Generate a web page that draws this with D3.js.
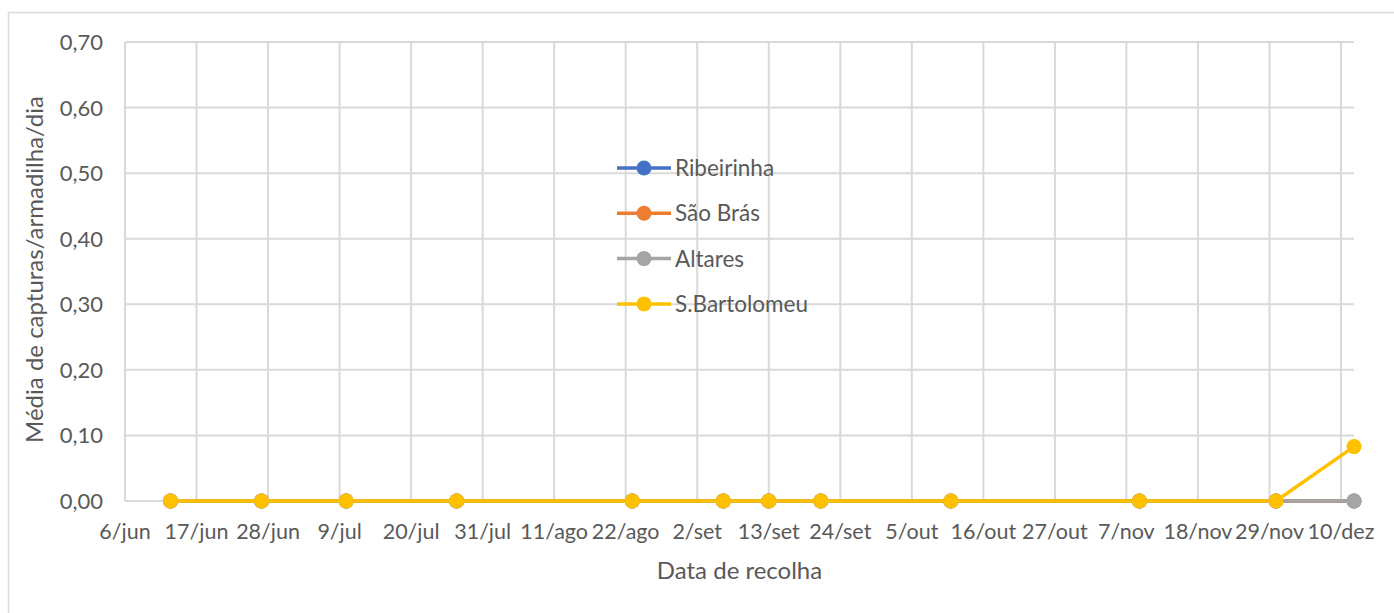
<!DOCTYPE html>
<html>
<head>
<meta charset="utf-8">
<script src="https://cdn.jsdelivr.net/npm/d3@7"></script>
<style>
  body { margin: 0; background: #fff; }
  text { font-family: Lato, "Open Sans", sans-serif; fill: #595959; }
</style>
</head>
<body>
<div id="chart"></div>
<script>
// collection dates (2019 assumed, only day/month shown)
var dates = ["2019-06-13", "2019-06-27", "2019-07-10", "2019-07-27", "2019-08-23",
  "2019-09-06", "2019-09-13", "2019-09-21", "2019-10-11", "2019-11-09",
  "2019-11-30", "2019-12-12"];

var ribeirinha = [0, 0, 0, 0, 0, 0, 0, 0, 0, 0, 0, 0];
var saoBras = [0, 0, 0, 0, 0, 0, 0, 0, 0, 0, 0, 0];
var altares = [0, 0, 0, 0, 0, 0, 0, 0, 0, 0, 0, 0];
var sBartolomeu = [0, 0, 0, 0, 0, 0, 0, 0, 0, 0, 0, 0.083];

var seriesNames = ["Ribeirinha", "São Brás", "Altares", "S.Bartolomeu"];
var seriesColors = ["#4472C4", "#ED7D31", "#A5A5A5", "#FFC000"];
var yTicks = [0, 0.1, 0.2, 0.3, 0.4, 0.5, 0.6, 0.7];
var months = ["jan", "fev", "mar", "abr", "mai", "jun", "jul", "ago", "set", "out", "nov", "dez"];

var svgWidth = 1394;
var svgHeight = 613;

var margin = { top: 42, right: 40, bottom: 112, left: 125 };
var width = svgWidth - margin.left - margin.right;
var height = svgHeight - margin.top - margin.bottom;

var parse = d3.timeParse("%Y-%m-%d");
var xStart = parse("2019-06-06");
var xEnd = parse("2019-12-12");

var svg = d3.select("#chart")
  .append("svg")
  .attr("width", svgWidth)
  .attr("height", svgHeight);

// chart border
svg.append("rect")
  .attr("x", 8.5)
  .attr("y", 12.5)
  .attr("width", 1400)
  .attr("height", 620)
  .attr("fill", "none")
  .attr("stroke", "#d9d9d9")
  .attr("stroke-width", 1.5);

var chartGroup = svg.append("g")
  .attr("transform", `translate(${margin.left}, ${margin.top})`);

var xScale = d3.scaleTime()
  .domain([xStart, xEnd])
  .range([0, width]);

var yScale = d3.scaleLinear()
  .domain([0, 0.7])
  .range([height, 0]);

// ticks every 11 days from 6/jun
var xTicks = d3.timeDay.range(xStart, xEnd, 1).filter(function(d, i) { return i % 11 === 0; });

// vertical gridlines
chartGroup.append("g").selectAll("line")
  .data(xTicks)
  .enter()
  .append("line")
  .attr("x1", d => xScale(d))
  .attr("x2", d => xScale(d))
  .attr("y1", 0)
  .attr("y2", height)
  .attr("stroke", "#d9d9d9")
  .attr("stroke-width", 2);

// horizontal gridlines
chartGroup.append("g").selectAll("line")
  .data(yTicks)
  .enter()
  .append("line")
  .attr("x1", 0)
  .attr("x2", width)
  .attr("y1", d => yScale(d))
  .attr("y2", d => yScale(d))
  .attr("stroke", "#d9d9d9")
  .attr("stroke-width", 2);

// y tick labels
chartGroup.append("g").selectAll("text")
  .data(yTicks)
  .enter()
  .append("text")
  .attr("x", -22)
  .attr("y", d => yScale(d) + 8)
  .attr("text-anchor", "end")
  .attr("font-size", "22px")
  .text(d => d3.format(".2f")(d).replace(".", ","));

// x tick labels
chartGroup.append("g").selectAll("text")
  .data(xTicks)
  .enter()
  .append("text")
  .attr("x", d => xScale(d))
  .attr("y", height + 38)
  .attr("text-anchor", "middle")
  .attr("font-size", "21.5px")
  .text(d => d.getDate() + "/" + months[d.getMonth()]);

// axis titles
chartGroup.append("text")
  .attr("x", width / 2)
  .attr("y", height + 78)
  .attr("text-anchor", "middle")
  .attr("font-size", "24px")
  .text("Data de recolha");

chartGroup.append("text")
  .attr("transform", "rotate(-90)")
  .attr("x", -(height / 2) + 2)
  .attr("y", -82)
  .attr("text-anchor", "middle")
  .attr("font-size", "24px")
  .text("Média de capturas/armadilha/dia");

// series
var allSeries = [ribeirinha, saoBras, altares, sBartolomeu];
var line = d3.line()
  .x((d, i) => xScale(parse(dates[i])))
  .y(d => yScale(d));

allSeries.forEach(function(values, s) {
  var g = chartGroup.append("g");
  g.append("path")
    .datum(values)
    .attr("d", line)
    .attr("fill", "none")
    .attr("stroke", seriesColors[s])
    .attr("stroke-width", 3.5)
    .attr("stroke-linejoin", "round");
  g.selectAll("circle")
    .data(values)
    .enter()
    .append("circle")
    .attr("cx", (d, i) => xScale(parse(dates[i])))
    .attr("cy", d => yScale(d))
    .attr("r", 7.5)
    .attr("fill", seriesColors[s]);
});

// legend
var legend = svg.append("g")
  .attr("transform", "translate(617, 168)");

seriesNames.forEach(function(name, i) {
  var row = legend.append("g")
    .attr("transform", `translate(0, ${i * 45.3})`);
  row.append("line")
    .attr("x1", 0)
    .attr("x2", 54)
    .attr("stroke", seriesColors[i])
    .attr("stroke-width", 3.5);
  row.append("circle")
    .attr("cx", 27)
    .attr("r", 7.5)
    .attr("fill", seriesColors[i]);
  row.append("text")
    .attr("x", 58)
    .attr("y", 8)
    .attr("font-size", "22.5px")
    .text(name);
});
</script>
</body>
</html>
